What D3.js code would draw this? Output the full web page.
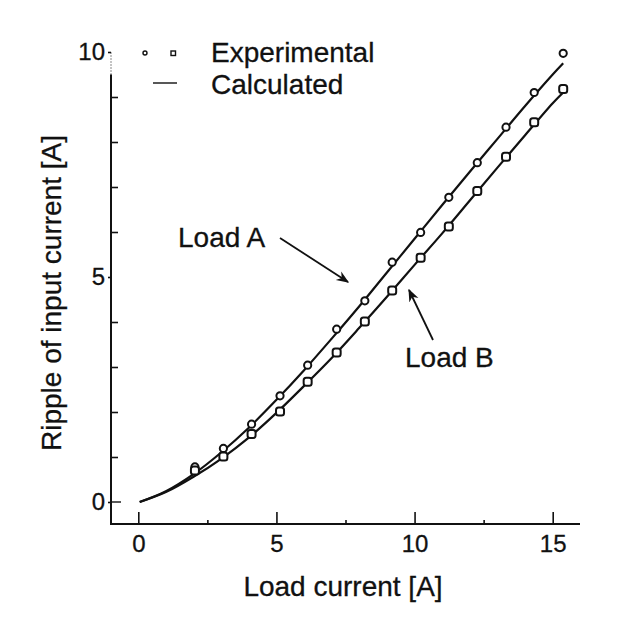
<!DOCTYPE html>
<html lang="en">
<head>
    <script src="https://d3js.org/d3.v7.min.js"></script>
    <title>ripple</title>
    <style>
        body {margin: 0; background: #fff;}
        svg {display: block;}
        text {font-family: "Liberation Sans", Arial, sans-serif; fill: #111; stroke: #111; stroke-width: 0.3;}
        .tick line {stroke: #111; stroke-width: 1.6;}
    </style>
</head>
<body>
<svg width="628" height="628"></svg>

<script>
    var loadX = [2.05, 3.08, 4.1, 5.13, 6.13, 7.18, 8.2, 9.19, 10.22, 11.24, 12.27, 13.31, 14.33, 15.38];
    var expA = [0.78, 1.19, 1.73, 2.36, 3.04, 3.84, 4.47, 5.33, 5.99, 6.77, 7.54, 8.33, 9.10, 9.97];
    var expB = [0.70, 1.01, 1.51, 2.01, 2.67, 3.32, 4.01, 4.70, 5.43, 6.12, 6.91, 7.67, 8.44, 9.18];

    // calculated curves
    var calcX = [0.05, 1, 2, 3, 4, 5, 6, 7, 8, 9, 10, 11, 12, 13, 14, 15, 15.38];
    var calcA = [0, 0.24, 0.62, 1.1, 1.65, 2.27, 2.93, 3.63, 4.35, 5.1, 5.85, 6.6, 7.34, 8.07, 8.8, 9.5, 9.75];
    var calcB = [0, 0.22, 0.56, 0.96, 1.43, 1.98, 2.58, 3.2, 3.87, 4.56, 5.27, 5.97, 6.7, 7.43, 8.15, 8.86, 9.1];

    var xMajor = [0, 5, 10, 15];
    var xMinor = [2.5, 7.5, 12.5];
    var yMajor = [0, 5, 10];
    var yMinor = [1, 2, 3, 4, 6, 7, 8, 9];

    var svg = d3.select('svg');
    var x = d3.scaleLinear().domain([0, 15]).range([138.3, 552.7]);
    var y = d3.scaleLinear().domain([0, 10]).range([502, 52]);
    var axisY = 524, axisX = 111;

    // axis lines
    svg.append('line').attr('x1', 112).attr('x2', 580).attr('y1', axisY).attr('y2', axisY)
        .attr('stroke', '#111').attr('stroke-width', 2);
    svg.append('line').attr('x1', axisX).attr('x2', axisX).attr('y1', axisY + 1).attr('y2', y(9.5))
        .attr('stroke', '#111').attr('stroke-width', 2);
    svg.append('line').attr('x1', axisX).attr('x2', axisX).attr('y1', y(9.5)).attr('y2', y(10))
        .attr('stroke', '#111').attr('stroke-width', 1).attr('stroke-dasharray', '1,2');

    // x axis: inward ticks
    var gx = svg.append('g').attr('transform', 'translate(0,' + axisY + ')');
    gx.call(d3.axisBottom(x).tickValues(xMajor).tickSize(-12).tickPadding(18));
    gx.selectAll('.tick text').attr('font-size', 24).attr('dy', '0.4em');
    gx.select('.domain').remove();
    var gx2 = svg.append('g').attr('transform', 'translate(0,' + axisY + ')');
    gx2.call(d3.axisBottom(x).tickValues(xMinor).tickSize(-4).tickFormat(''));
    gx2.select('.domain').remove();

    // y axis
    var gy = svg.append('g').attr('transform', 'translate(' + axisX + ',0)');
    gy.call(d3.axisLeft(y).tickValues(yMajor).tickSize(5).tickPadding(2));
    gy.selectAll('.tick text').attr('font-size', 24).attr('x', -6);
    gy.selectAll('.tick line').attr('stroke-dasharray', '3,2').attr('stroke-width', 1);
    gy.select('.domain').remove();
    var gy2 = svg.append('g').attr('transform', 'translate(' + axisX + ',0)');
    gy2.call(d3.axisLeft(y).tickValues(yMinor).tickSize(-7).tickFormat(''));
    gy2.select('.domain').remove();
    svg.append('line').attr('x1', axisX).attr('x2', axisX + 10).attr('y1', y(0)).attr('y2', y(0))
        .attr('stroke', '#111').attr('stroke-width', 1.4);

    // titles
    svg.append('text').attr('x', 343).attr('y', 596).attr('text-anchor', 'middle')
        .attr('font-size', 28).text('Load current [A]');
    svg.append('text').attr('transform', 'translate(61,293) rotate(-90)').attr('text-anchor', 'middle')
        .attr('font-size', 28).text('Ripple of input current [A]');

    // calculated curves
    var line = d3.line().x(d => x(d[0])).y(d => y(d[1])).curve(d3.curveCatmullRom);
    [calcA, calcB].forEach(function (s) {
        svg.append('path').datum(calcX.map((v, i) => [v, s[i]]))
            .attr('d', line).attr('fill', 'none').attr('stroke', '#111').attr('stroke-width', 2.2);
    });

    // experimental points
    svg.selectAll('circle.a').data(loadX.map((v, i) => [v, expA[i]])).enter().append('circle')
        .attr('class', 'a').attr('cx', d => x(d[0])).attr('cy', d => y(d[1])).attr('r', 3.6)
        .attr('fill', '#fff').attr('stroke', '#111').attr('stroke-width', 2);
    svg.selectAll('rect.b').data(loadX.map((v, i) => [v, expB[i]])).enter().append('rect')
        .attr('class', 'b').attr('x', d => x(d[0]) - 4).attr('y', d => y(d[1]) - 4)
        .attr('width', 8).attr('height', 8).attr('rx', 2.5)
        .attr('fill', '#fff').attr('stroke', '#111').attr('stroke-width', 2);

    // legend
    svg.append('circle').attr('cx', 145).attr('cy', 53).attr('r', 2).attr('fill', 'none')
        .attr('stroke', '#111').attr('stroke-width', 1.4);
    svg.append('rect').attr('x', 171).attr('y', 51).attr('width', 4.5).attr('height', 4.5)
        .attr('fill', 'none').attr('stroke', '#111').attr('stroke-width', 1.4);
    svg.append('line').attr('x1', 153).attr('x2', 177).attr('y1', 83).attr('y2', 83)
        .attr('stroke', '#111').attr('stroke-width', 1.4);
    svg.append('text').attr('x', 211).attr('y', 62).attr('font-size', 28).text('Experimental');
    svg.append('text').attr('x', 211).attr('y', 94).attr('font-size', 28).text('Calculated');

    // annotations
    svg.append('defs').append('marker').attr('id', 'arr').attr('viewBox', '0 0 10 10')
        .attr('refX', 9).attr('refY', 5).attr('markerWidth', 7).attr('markerHeight', 7)
        .attr('orient', 'auto').append('path').attr('d', 'M0,1 L10,5 L0,9 L3,5 Z').attr('fill', '#111');
    svg.append('text').attr('x', 178).attr('y', 247).attr('font-size', 28).text('Load A');
    svg.append('line').attr('x1', 280).attr('y1', 238).attr('x2', 348).attr('y2', 282)
        .attr('stroke', '#111').attr('stroke-width', 1.8).attr('marker-end', 'url(#arr)');
    svg.append('text').attr('x', 405).attr('y', 367).attr('font-size', 28).text('Load B');
    svg.append('line').attr('x1', 433).attr('y1', 340).attr('x2', 409).attr('y2', 290)
        .attr('stroke', '#111').attr('stroke-width', 1.8).attr('marker-end', 'url(#arr)');
</script>
</body>
</html>
